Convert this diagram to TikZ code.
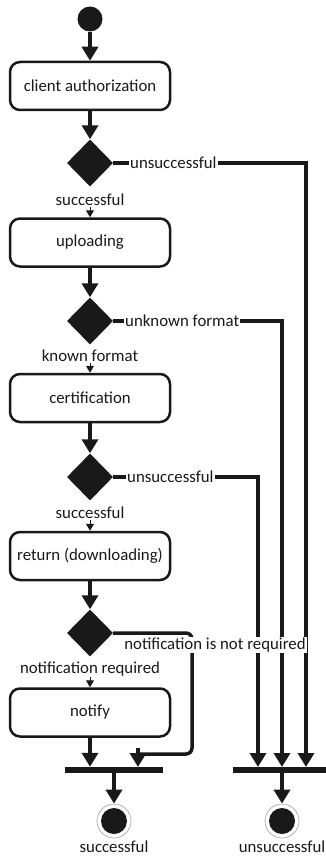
\documentclass[tikz,border=0pt]{standalone}
\usepackage{fontspec}
\setmainfont{Carlito}
\usetikzlibrary{shapes.geometric,arrows.meta,backgrounds}

\tikzset{
  activity/.style={draw=black!90, rounded corners=10pt, line width=2.5pt,
    minimum width=160pt, minimum height=48pt, fill=white},
  decision/.style={diamond, fill=black!90, inner sep=0pt,
    minimum width=46pt, minimum height=47pt},
  initial/.style={circle, fill=black!90, inner sep=0pt, minimum size=25pt},
  final/.style={circle, draw=black!30, line width=0.8pt, inner sep=0pt,
    minimum size=34pt,
    path picture={\fill[black!90] (path picture bounding box.center) circle (13pt);}},
  syncbar/.style={fill=black!90, inner sep=0pt, minimum width=98pt, minimum height=6pt},
  guard/.style={inner sep=1pt, fill=white},
  flow/.style={draw=black!90, line width=3.5pt, -{Triangle[length=14pt,width=16pt]}},
  tail/.style={draw=black!90, line width=3.5pt},
  guardflow/.style={draw=black!90, line width=1pt, -{Triangle[length=7pt,width=8pt]}},
}

\begin{document}
\begin{tikzpicture}[x=1pt, y=-1pt,
    every node/.style={font=\fontsize{16.8pt}{20pt}\selectfont, text=black!90}]

    \useasboundingbox (0,0) rectangle (326,864);

    % Start
    \node[initial] (start) at (90,19) {};

    % Activities
    \node[activity] (auth)   at (90,86)    {client authorization};
    \node[activity] (upload) at (90,242.5) {uploading};
    \node[activity] (cert)   at (90,398)   {certification};
    \node[activity] (ret)    at (90,556)   {return (downloading)};
    \node[activity] (notify) at (90,712.5) {notify};

    % Decisions
    \node[decision] (d1) at (90,163) {};
    \node[decision] (d2) at (90,321) {};
    \node[decision] (d3) at (90,477) {};
    \node[decision] (d4) at (90,633) {};

    % Guards below the decisions
    \node[guard] (g1) at (90,200) {successful};
    \node[guard] (g2) at (90,356) {known format};
    \node[guard] (g3) at (90,513) {successful};
    \node[guard] (g4) at (90,669) {notification required};

    % Guards to the right
    \node[guard, anchor=west] (u1) at (129,163) {unsuccessful};
    \node[guard, anchor=west] (u2) at (124,321) {unknown format};
    \node[guard, anchor=west] (u3) at (126,477) {unsuccessful};
    \node[guard] (u4) at (215,645) {notification is not required};

    % Join bars and ends
    \node[syncbar] (bar1) at (114,770) {};
    \node[syncbar] (bar2) at (282,770) {};
    \node[final] (ok)   at (114,821) {};
    \node[final] (fail) at (282,821) {};
    \node (okl)   at (114,847) {successful};
    \node (faill) at (282,847) {unsuccessful};

    % Bar inputs
    \coordinate (in0) at (138,767);
    \coordinate (in1) at (258,767);
    \coordinate (in2) at (282,767);
    \coordinate (in3) at (306,767);
    \coordinate (nr1) at (192,633);
    \coordinate (nr2) at (192,754);
    \coordinate (nr3) at (138,748);

    \begin{scope}[on background layer]
        % Main flow
        \draw[flow] (start) -- (auth);
        \draw[flow] (auth) -- (d1);
        \draw[flow] (upload) -- (d2);
        \draw[flow] (cert) -- (d3);
        \draw[flow] (ret) -- (d4);
        \draw[flow] (notify) -- (notify |- bar1.north);

        % Guarded flows
        \draw[guardflow] (g1) -- (upload);
        \draw[guardflow] (g2) -- (cert);
        \draw[guardflow] (g3) -- (ret);
        \draw[guardflow] (g4) -- (notify);

        % Failure branches
        \draw[tail] (d1) -- (u1);
        \draw[flow] (u1) -| (in3);
        \draw[tail] (d2) -- (u2);
        \draw[flow] (u2) -| (in2);
        \draw[tail] (d3) -- (u3);
        \draw[flow] (u3) -| (in1);

        % Skip notification
        \draw[tail, rounded corners=6pt] (d4) -- (nr1) -- (nr2) -- (in0 |- nr2);
        \draw[flow] (nr3) -- (in0);

        % To the ends
        \draw[flow] (bar1) -- (ok);
        \draw[flow] (bar2) -- (fail);
    \end{scope}

\end{tikzpicture}
\end{document}
